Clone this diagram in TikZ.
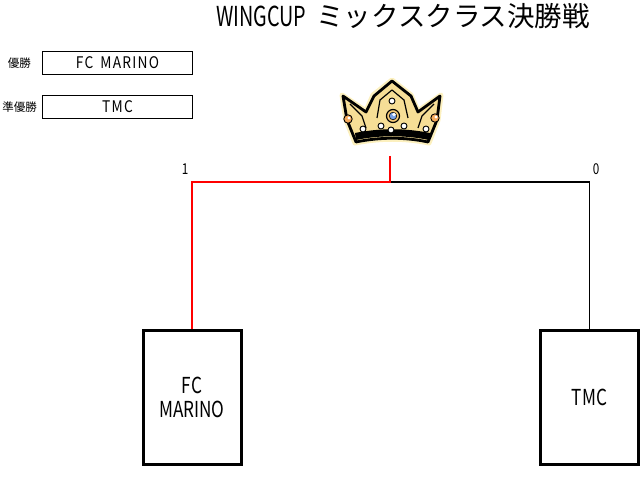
\documentclass[tikz,border=0pt]{standalone}
\usepackage{fontspec}
\setmainfont{Noto Sans CJK JP}
\newfontfamily\halfw[FakeStretch=0.78]{Noto Sans CJK JP}
\newfontfamily\halfwt[FakeStretch=0.72]{Noto Sans CJK JP}
\newfontfamily\halfwsp[FakeStretch=0.86,LetterSpace=8]{Noto Sans CJK JP}
\usetikzlibrary{positioning}

\definecolor{crowngold}{RGB}{246,222,150}
\definecolor{crownhalo}{RGB}{252,240,190}
\definecolor{pearlorange}{RGB}{246,170,90}
\definecolor{jewelblue}{RGB}{120,160,230}

\tikzset{
  smallbox/.style={draw,line width=1pt,minimum width=150pt,minimum height=23pt,
    inner sep=0pt,font=\fontsize{16}{18}\selectfont\halfwsp},
  teambox/.style={draw,line width=3pt,minimum width=98pt,minimum height=134pt,
    inner sep=0pt,align=center,font=\fontsize{22}{24}\selectfont\halfw},
  rankname/.style={inner sep=0pt,font=\fontsize{11.5}{13}\selectfont},
  score/.style={inner sep=0pt,font=\fontsize{15}{17}\selectfont\halfw},
  winline/.style={red,line width=2pt},
  loseline/.style={black,line width=1.5pt},
  pearl/.style={fill=white,draw=black,line width=0.9pt}
}

\begin{document}
\begin{tikzpicture}[x=1pt,y=-1pt]
\useasboundingbox (0,0) rectangle (641,478);

% title
\node (title) at (403,16) {\fontsize{27.5}{30}\selectfont{\halfwt WINGCUP}\hspace{10pt}ミックスクラス決勝戦};

% result table
\node[smallbox] (champ) at (117.5,63) {FC\hspace{7pt}MARINO};
\node[smallbox] (runner) at (117.5,107) {TMC};
\node[rankname] (champlbl) at (19.5,63) {優勝};
\node[rankname] (runnerlbl) at (19.5,107) {準優勝};

% crown
\begin{scope}[line join=round]
  \draw[crownhalo,line width=5pt] (392,80) -- (411,95) -- (418,111) -- (441,95)
     -- (438,120) -- (429,143) .. controls (405,138) and (380,138) .. (355,143)
     -- (346,120) -- (342,95) -- (366,111) -- (373,95) -- cycle;
  \draw[fill=crowngold,line width=2.8pt] (392,81) -- (411,96) -- (418,112) -- (440,96)
     -- (437,120) -- (428,142) .. controls (405,137) and (380,137) .. (356,142)
     -- (347,120) -- (343,96) -- (366,112) -- (374,96) -- cycle;
  \draw[line width=1.2pt] (392,90) -- (404,100) -- (408,118);
  \draw[line width=1.2pt] (392,90) -- (380,100) -- (377,118);
  \draw[line width=1.2pt] (350,104) -- (362,116) -- (366,128);
  \draw[line width=1.2pt] (434,104) -- (422,116) -- (418,128);
  \fill[black] (355,133) .. controls (380,128) and (405,128) .. (430,133)
     -- (429,140) .. controls (405,135) and (380,135) .. (356,140) -- cycle;
  \foreach \px/\py in {392/101,381/126,391/130,404/126,363/129,426/129}
    \draw[pearl] (\px,\py) circle (3);
  \foreach \px/\py in {348/119,435/118} {
    \draw[fill=pearlorange,line width=0.9pt] (\px,\py) circle (4.2);
    \fill[white] (\px+1,\py-1) circle (1.6);
  }
  \draw[fill=crowngold!80!orange,line width=1.2pt] (393,116) circle (6.5);
  \draw[fill=jewelblue,line width=0.6pt] (393,116) circle (3.8);
  \fill[white] (394,114.5) circle (1.8);
\end{scope}

% bracket
\node[teambox] (teamA) at (192,397.5) {FC\\MARINO};
\node[teambox] (teamB) at (589.5,397.5) {TMC};
\coordinate (crownfoot) at (390,156);
\coordinate (split) at (390,182);
\draw[loseline] (split) -| (teamB.north);
\draw[winline] (crownfoot) -- (split) -| (teamA.north);
\node[score] (scoreA) at (185,169) {1};
\node[score] (scoreB) at (596,169) {0};
\end{tikzpicture}
\end{document}
